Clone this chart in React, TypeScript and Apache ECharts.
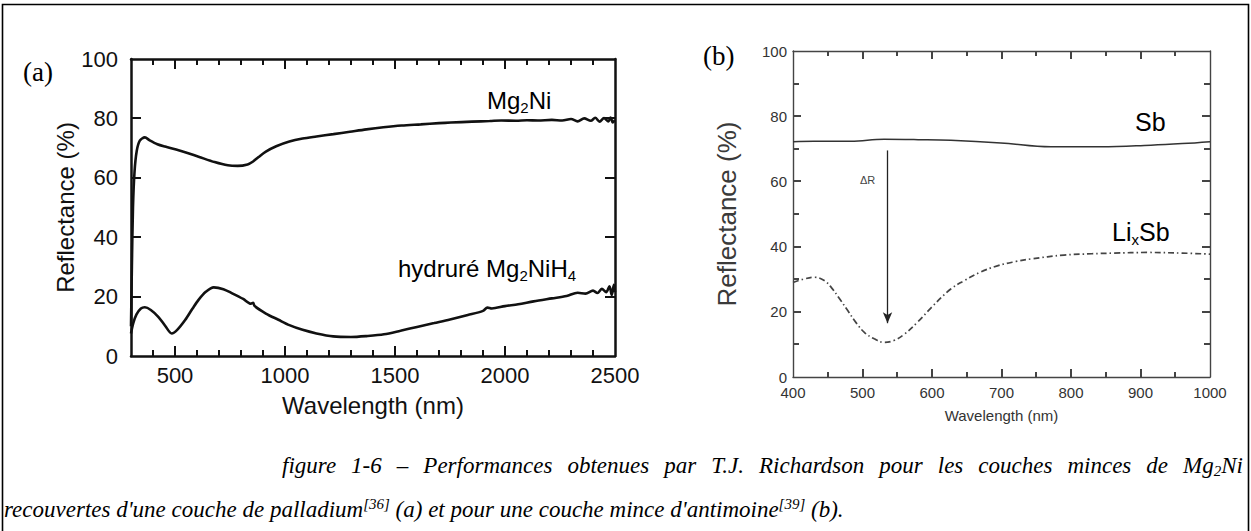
import React, { useEffect, useRef } from "react";
import * as echarts from "echarts";

// ---------- data ----------
const mg2niA: number[][] = [
  [300, 10], [304, 30], [309, 50], [316, 62], [326, 69], [340, 72.5], [363, 73.6], [385, 72.6],
  [420, 71.3], [455, 70.5], [520, 69.2], [607, 67.1], [680, 65.3], [740, 64.2], [785, 64],
  [830, 64.5], [855, 65.5], [880, 67], [913, 68.8], [960, 70.6], [1020, 72.2], [1080, 73.2],
  [1143, 73.9], [1220, 74.7], [1295, 75.5], [1370, 76.3], [1447, 77], [1530, 77.6], [1617, 78],
  [1700, 78.4], [1754, 78.6], [1850, 78.9], [1930, 79.1], [1983, 79.3], [2050, 79.2], [2100, 79.4],
  [2150, 79.3], [2213, 79.5], [2260, 79.3], [2300, 79.8], [2330, 79.0], [2360, 80.0], [2390, 79.2],
  [2410, 80.2], [2430, 78.9], [2450, 80.1], [2470, 79.0], [2480, 80.3], [2490, 78.6], [2500, 79.5],
];
const hydrideA: number[][] = [
  [300, 7.6], [310, 11], [325, 14], [345, 16], [363, 16.4], [390, 15.5], [424, 13.2], [455, 10.2],
  [485, 7.6], [510, 8.8], [546, 12.1], [580, 16], [607, 18.9], [640, 21.6], [676, 23.1], [720, 22.5],
  [760, 21.1], [810, 19.2], [845, 17.6], [855, 17.9], [862, 16.8], [913, 14.3], [970, 12.2],
  [1020, 10.4], [1080, 8.8], [1143, 7.6], [1219, 6.6], [1300, 6.4], [1370, 6.7], [1450, 7.3],
  [1525, 8.5], [1600, 9.8], [1678, 11.1], [1750, 12.3], [1831, 13.8], [1900, 15.2], [1920, 16.3],
  [1940, 16], [2000, 16.8], [2060, 17.4], [2130, 18.4], [2213, 19.4], [2280, 20.2], [2330, 21.3],
  [2366, 21.0], [2400, 22.0], [2420, 21.2], [2440, 22.6], [2460, 21.5], [2475, 23.5], [2485, 20.5],
  [2495, 24], [2500, 21.5],
];
const xTicksA: number[] = [
  400, 500, 600, 700, 800, 900, 1000, 1100, 1200, 1300, 1400, 1500, 1600, 1700, 1800, 1900,
  2000, 2100, 2200, 2300, 2400,
];
const xLabelsA: number[] = [500, 1000, 1500, 2000, 2500];
const yTicksA: number[] = [20, 40, 60, 80];

// Panel (b)
const sbB: number[][] = [
  [400, 72.2], [430, 72.3], [483, 72.3], [531, 72.9], [580, 72.8], [627, 72.6], [699, 71.8],
  [771, 70.6], [843, 70.6], [915, 71.1], [960, 71.6], [1000, 72.2],
];
const lixsbB: number[][] = [
  [400, 29], [415, 30], [431, 30.6], [445, 29.6], [455, 27.5], [467, 24], [479, 20.3], [491, 16.6],
  [503, 13.6], [517, 11.7], [531, 10.6], [545, 11.2], [560, 13.1], [580, 17], [599, 21.3],
  [627, 27], [646, 29.5], [670, 32.2], [694, 34.1], [720, 35.4], [742, 36.2], [790, 37.4],
  [830, 37.8], [862, 38], [910, 38.2], [960, 38.0], [1000, 37.7],
];
const deltaRArrowB: number[][] = [[536, 69.5], [536, 16.5]];
const xTicksB: number[] = [450, 500, 550, 600, 650, 700, 750, 800, 850, 900, 950];
const yTicksB: number[] = [10, 20, 30, 40, 50, 60, 70, 80, 90];

// Texts
const panelTags = ["(a)", "(b)"];
const seriesNames = ["Mg2Ni", "hydruré Mg2NiH4", "Sb", "LixSb"];
const caption1 = "figure 1-6 – Performances obtenues par T.J. Richardson pour les couches minces de Mg{s|2}Ni";
const caption2 = "recouvertes d'une couche de palladium{p|[36]} (a) et pour une couche mince d'antimoine{p|[39]} (b).";

const SANS = '"Liberation Sans", Arial, Helvetica, sans-serif';
const SERIF = '"Liberation Serif", "Times New Roman", serif';

const plain = (v: number) => String(v);

function App() {
  const ref = useRef<HTMLDivElement>(null);

  useEffect(() => {
    if (!ref.current) return;
    const chart = echarts.init(ref.current, undefined, { renderer: "svg" });

    // caption line 1 is justified between capX0 and capX1
    const capSize = 23;
    const subSize = 15;
    const canvas = document.createElement("canvas");
    const ctx = canvas.getContext("2d")!;
    const measure = (t: string, size: number) => {
      ctx.font = `italic ${size}px "Liberation Serif"`;
      return ctx.measureText(t).width;
    };
    const words = caption1.split(" ");
    let total = 0;
    words.forEach((w) => {
      const m = w.match(/^(.*)\{s\|(.*)\}(.*)$/);
      if (m) total += measure(m[1], capSize) + measure(m[2], subSize) + measure(m[3], capSize);
      else total += measure(w, capSize);
    });
    const capX0 = 282;
    const capX1 = 1243;
    const spW = Math.max(4, (capX1 - capX0 - total) / (words.length - 1));
    const caption1Rich = words.join("{sp| }");
    const capBase = { fontFamily: SERIF, fontStyle: "italic", fontSize: capSize, lineHeight: 26 };

    const axisBlack = { color: "#111", width: 2.5 };
    const axisGray = { color: "#444", width: 1.4 };
    const subRich = { s: { fontFamily: SANS, fontSize: 15, lineHeight: 15, verticalAlign: "bottom", fill: "#000" } };

    const baseGraphic: any[] = [
      { type: "rect", silent: true, shape: { x: 2.5, y: 4.5, width: 1246, height: 560 }, style: { fill: "none", stroke: "#000", lineWidth: 1.6 } },
      { type: "text", x: 23, y: 72, style: { text: panelTags[0], fontFamily: SERIF, fontSize: 27, fill: "#000", verticalAlign: "middle" } },
      { type: "text", x: 703, y: 56, style: { text: panelTags[1], fontFamily: SERIF, fontSize: 27, fill: "#000", verticalAlign: "middle" } },
      {
        type: "text", x: 487, y: 100,
        style: { text: "Mg{s|2}Ni", fontFamily: SANS, fontSize: 24, lineHeight: 29, fill: "#000", verticalAlign: "middle", rich: subRich },
      },
      {
        type: "text", x: 398, y: 268,
        style: { text: "hydruré Mg{s|2}NiH{s|4}", fontFamily: SANS, fontSize: 24, lineHeight: 29, fill: "#000", verticalAlign: "middle", rich: subRich },
      },
      { type: "text", x: 1135, y: 122, style: { text: seriesNames[2], fontFamily: SANS, fontSize: 25, fill: "#000", verticalAlign: "middle" } },
      {
        type: "text", x: 1112, y: 232,
        style: { text: "Li{s|x}Sb", fontFamily: SANS, fontSize: 25, lineHeight: 29, fill: "#000", verticalAlign: "middle", rich: subRich },
      },
      { type: "text", x: 860, y: 180, style: { text: "ΔR", fontFamily: SANS, fontSize: 11, fill: "#444", verticalAlign: "middle" } },
      {
        type: "text", x: capX0, y: 465,
        style: {
          text: caption1Rich, ...capBase, fill: "#000", verticalAlign: "middle",
          rich: {
            sp: { ...capBase, width: spW },
            s: { fontFamily: SERIF, fontStyle: "italic", fontSize: subSize, lineHeight: 15, verticalAlign: "bottom" },
          },
        },
      },
      {
        type: "text", x: 4, y: 509,
        style: {
          text: caption2, ...capBase, fill: "#000", verticalAlign: "middle",
          rich: { p: { fontFamily: SERIF, fontStyle: "italic", fontSize: subSize, lineHeight: 15, verticalAlign: "top" } },
        },
      },
    ];

    const hidden = { show: false };
    const option: any = {
      animation: false,
      backgroundColor: "#fff",
      grid: [
        { left: 131, top: 59, width: 484, height: 297 },
        { left: 793, top: 51, width: 417, height: 326 },
      ],
      xAxis: [
        {
          type: "value", gridIndex: 0, position: "bottom", min: 300, max: 2500,
          axisLine: { show: true, onZero: false, lineStyle: axisBlack },
          axisTick: hidden,
          axisLabel: { show: true, customValues: xLabelsA, formatter: plain, fontSize: 22, color: "#111", margin: 8, fontFamily: SANS },
          splitLine: hidden,
          name: "Wavelength (nm)", nameLocation: "middle", nameGap: 37,
          nameTextStyle: { fontSize: 24, color: "#111", fontFamily: SANS },
        },
        {
          type: "value", gridIndex: 0, position: "top", min: 300, max: 2500,
          axisLine: { show: true, onZero: false, lineStyle: axisBlack },
          axisTick: hidden, axisLabel: hidden, splitLine: hidden,
        },
        {
          type: "value", gridIndex: 1, position: "bottom", min: 400, max: 1000, interval: 100,
          axisLine: { show: true, onZero: false, lineStyle: axisGray },
          axisTick: hidden,
          axisLabel: { show: true, formatter: plain, fontSize: 15, color: "#333", margin: 8, fontFamily: SANS },
          splitLine: hidden,
          name: "Wavelength (nm)", nameLocation: "middle", nameGap: 31,
          nameTextStyle: { fontSize: 15, color: "#333", fontFamily: SANS },
        },
        {
          type: "value", gridIndex: 1, position: "top", min: 400, max: 1000, interval: 100,
          axisLine: { show: true, onZero: false, lineStyle: axisGray },
          axisTick: hidden, axisLabel: hidden, splitLine: hidden,
        },
      ],
      yAxis: [
        {
          type: "value", gridIndex: 0, position: "left", min: 0, max: 100, interval: 20,
          axisLine: { show: true, onZero: false, lineStyle: axisBlack },
          axisTick: hidden,
          axisLabel: { show: true, formatter: plain, fontSize: 22, color: "#111", margin: 13, fontFamily: SANS },
          splitLine: hidden,
          name: "Reflectance (%)", nameLocation: "middle", nameGap: 47, nameRotate: 90,
          nameTextStyle: { fontSize: 24, color: "#111", fontFamily: SANS },
        },
        {
          type: "value", gridIndex: 0, position: "right", min: 0, max: 100, interval: 20,
          axisLine: { show: true, onZero: false, lineStyle: axisBlack },
          axisTick: hidden, axisLabel: hidden, splitLine: hidden,
        },
        {
          type: "value", gridIndex: 1, position: "left", min: 0, max: 100, interval: 20,
          axisLine: { show: true, onZero: false, lineStyle: axisGray },
          axisTick: hidden,
          axisLabel: { show: true, formatter: plain, fontSize: 15, color: "#333", margin: 6, fontFamily: SANS },
          splitLine: hidden,
          name: "Reflectance (%)", nameLocation: "middle", nameGap: 53, nameRotate: 90,
          nameTextStyle: { fontSize: 26, color: "#3a3a3a", fontFamily: SANS },
        },
        {
          type: "value", gridIndex: 1, position: "right", min: 0, max: 100, interval: 20,
          axisLine: { show: true, onZero: false, lineStyle: axisGray },
          axisTick: hidden, axisLabel: hidden, splitLine: hidden,
        },
      ],
      series: [
        { name: seriesNames[0], type: "line", xAxisIndex: 0, yAxisIndex: 0, data: mg2niA, showSymbol: false, smooth: 0.3, lineStyle: { color: "#111", width: 2.6 } },
        { name: seriesNames[1], type: "line", xAxisIndex: 0, yAxisIndex: 0, data: hydrideA, showSymbol: false, smooth: 0.3, lineStyle: { color: "#111", width: 2.6 } },
        { name: seriesNames[2], type: "line", xAxisIndex: 2, yAxisIndex: 2, data: sbB, showSymbol: false, smooth: 0.4, lineStyle: { color: "#333", width: 1.5 } },
        {
          name: seriesNames[3], type: "line", xAxisIndex: 2, yAxisIndex: 2, data: lixsbB, showSymbol: false, smooth: 0.4,
          lineStyle: { color: "#444", width: 1.7, type: [6, 3, 1.5, 3] },
          markLine: {
            silent: true, animation: false, symbol: ["none", "arrow"], symbolSize: [7, 11],
            lineStyle: { color: "#222", width: 1.3, type: "solid" }, label: { show: false },
            data: [[{ coord: deltaRArrowB[0] }, { coord: deltaRArrowB[1] }]],
          },
        },
      ],
      graphic: baseGraphic,
    };

    chart.setOption(option);

    // inward ticks, positioned through the library's own scales
    const tickEls: any[] = [];
    const addTicks = (axisIdx: number, dir: "x" | "y", values: number[], isMajor: (v: number) => boolean,
      majLen: number, minLen: number, color: string, w: number, ext: number[]) => {
      const finder: any = { xAxisIndex: axisIdx, yAxisIndex: axisIdx };
      values.forEach((v) => {
        const len = isMajor(v) ? majLen : minLen;
        if (dir === "x") {
          const pb = chart.convertToPixel(finder, [v, ext[0]]) as number[];
          const pt = chart.convertToPixel(finder, [v, ext[1]]) as number[];
          const x = Math.round(pb[0] - w / 2);
          tickEls.push({ type: "rect", z: 50, shape: { x, y: Math.round(pb[1]) - len, width: w, height: len }, style: { fill: color } });
          tickEls.push({ type: "rect", z: 50, shape: { x, y: Math.round(pt[1]), width: w, height: len }, style: { fill: color } });
        } else {
          const pl = chart.convertToPixel(finder, [ext[0], v]) as number[];
          const pr = chart.convertToPixel(finder, [ext[1], v]) as number[];
          const y = Math.round(pl[1] - w / 2);
          tickEls.push({ type: "rect", z: 50, shape: { x: Math.round(pl[0]), y, width: len, height: w }, style: { fill: color } });
          tickEls.push({ type: "rect", z: 50, shape: { x: Math.round(pr[0]) - len, y, width: len, height: w }, style: { fill: color } });
        }
      });
    };
    addTicks(0, "x", xTicksA, (v) => xLabelsA.includes(v), 10, 6, "#111", 2, [0, 100]);
    addTicks(0, "y", yTicksA, () => true, 10, 10, "#111", 2, [300, 2500]);
    addTicks(2, "x", xTicksB, (v) => v % 100 === 0, 8, 5, "#444", 2, [0, 100]);
    addTicks(2, "y", yTicksB, (v) => v % 20 === 0, 8, 6, "#444", 2, [400, 1000]);

    chart.setOption({ graphic: [...baseGraphic, ...tickEls] });

    return () => chart.dispose();
  }, []);

  return (
    <div ref={ref} style={{ position: "absolute", left: 0, top: 0, width: 1251, height: 531, background: "#fff" }} />
  );
}

export default App;
